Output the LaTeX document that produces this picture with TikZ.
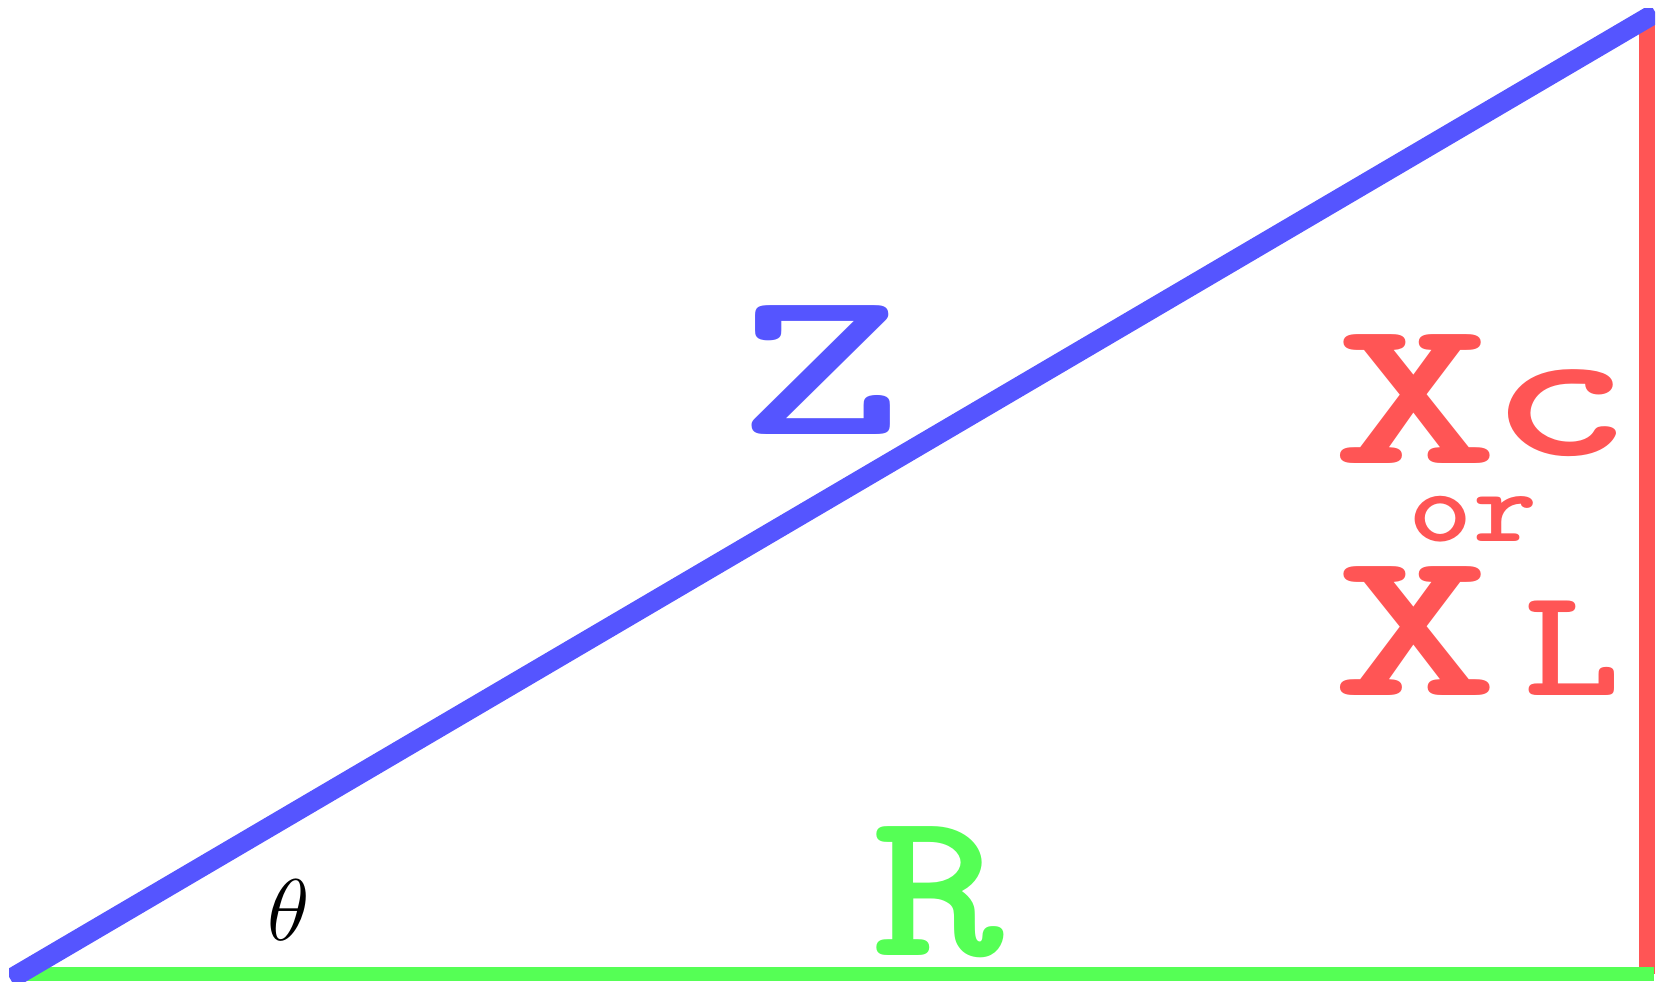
\documentclass[tikz,border=0pt]{standalone}
\usepackage{fontspec}
\definecolor{EGAblue}{HTML}{5555FF}
\definecolor{EGAred}{HTML}{FF5555}
\definecolor{EGAgreen}{HTML}{55FF55}
\usetikzlibrary{positioning}
% Stretched label text: [stretch], size, text
\newcommand{\sidetext}[3][1.5]{\fontsize{#2}{#2}\selectfont\scalebox{#1}[1]{#3}}

\begin{document}
\begin{tikzpicture}[x=0.01cm, y=-0.01cm,
      lbl/.style={inner sep=0pt, anchor=base, font=\ttfamily\bfseries}]
   \useasboundingbox (0,0) rectangle (1669,981);
   % Corners of the triangle
   \coordinate (A) at (19,974);
   \coordinate (B) at (1647,974);
   \coordinate (C) at (1647,18);
   % Reactance (red), resistance (green), impedance (blue)
   \draw[EGAred, line width=0.16cm] (B) -- (C);
   \draw[EGAgreen, line width=0.14cm, line cap=rect] (A) -- (B);
   \begin{scope}
      \clip (9,8) rectangle (1655,981);
      \draw[EGAblue, line width=0.20cm, line cap=rect] (A) -- (C);
   \end{scope}
   % Side labels
   \node[lbl, EGAblue] (Z) at (821,434) {\sidetext{60pt}{Z}};
   \node[lbl, EGAgreen] (R) at (938,955) {\sidetext[1.2]{60pt}{R}};
   \node[lbl, EGAred] (XcX) at (1416,463) {\sidetext{60pt}{X}};
   \node[lbl, EGAred] (Xcc) at (1561,455) {\sidetext[1.4]{55pt}{c}};
   \node[lbl, EGAred] (or) at (1473,541) {\sidetext[1.2]{29pt}{or}};
   \node[lbl, EGAred] (XLX) at (1416,695) {\sidetext{60pt}{X}};
   \node[lbl, EGAred] (XLL) at (1572,695) {\sidetext[1.2]{44pt}{L}};
   % Angle
   \node[inner sep=0pt, anchor=base] (theta) at (289,940)
      {\fontsize{26pt}{26pt}\selectfont$\theta$};
\end{tikzpicture}
\end{document}
